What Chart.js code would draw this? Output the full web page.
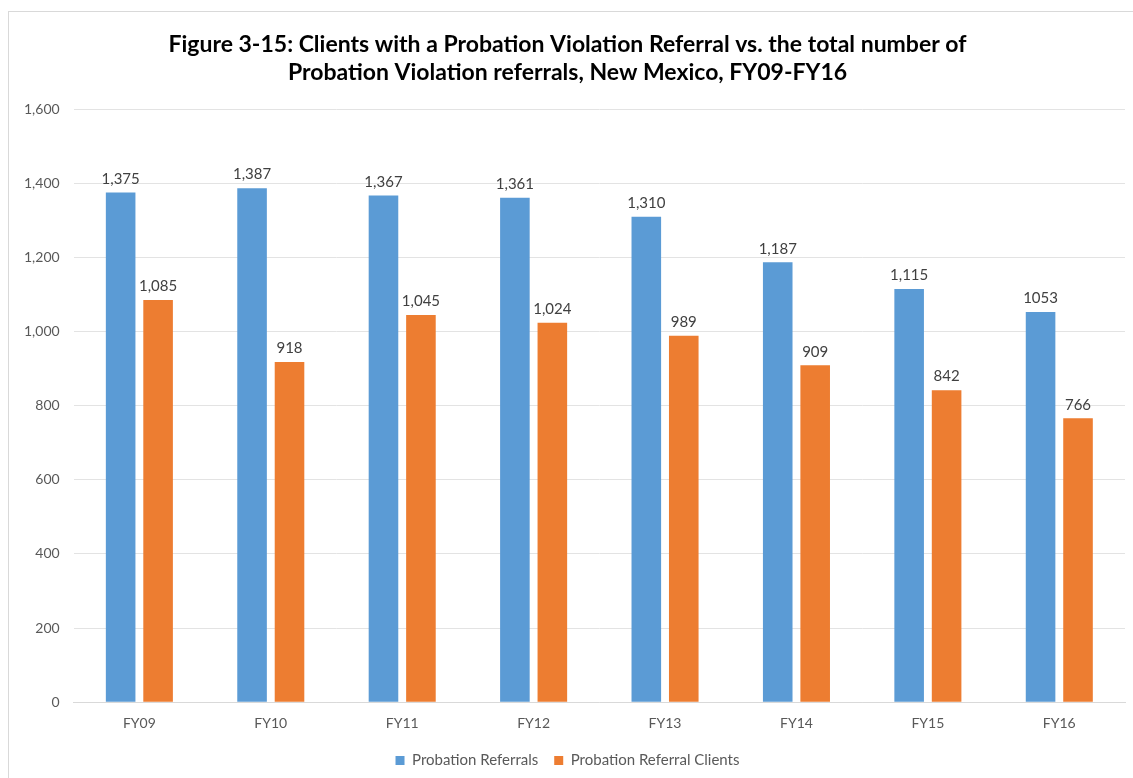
<!DOCTYPE html>
<html>
<head>
<meta charset="utf-8">
<script src="https://cdn.jsdelivr.net/npm/chart.js@4"></script>
<style>
  html, body { margin: 0; padding: 0; background: #fff; }
  #frame { position: absolute; left: 8px; top: 11px; width: 1140px; height: 800px; border: 1px solid #d9d9d9; }
  #wrap { position: absolute; left: 0; top: 0; width: 1133px; height: 778px; }
</style>
</head>
<body>
<div id="frame"></div>
<div id="wrap"><canvas id="chart"></canvas></div>
<script>
const years = ["FY09", "FY10", "FY11", "FY12", "FY13", "FY14", "FY15", "FY16"];
const referrals = [1375, 1387, 1367, 1361, 1310, 1187, 1115, 1053];
const clients = [1085, 918, 1045, 1024, 989, 909, 842, 766];
// labels as printed on the figure (FY16 has no comma)
const referralLabels = ["1,375", "1,387", "1,367", "1,361", "1,310", "1,187", "1,115", "1053"];
const clientLabels = ["1,085", "918", "1,045", "1,024", "989", "909", "842", "766"];

const FONT = "Lato, 'Open Sans', sans-serif";
const GREY = "#595959";

// draw value labels on top of each bar
const barLabels = {
  id: "barLabels",
  afterDatasetsDraw(chart) {
    const ctx = chart.ctx;
    ctx.save();
    ctx.font = "15px " + FONT;
    ctx.fillStyle = "#404040";
    ctx.textAlign = "center";
    ctx.textBaseline = "bottom";
    chart.data.datasets.forEach((ds, i) => {
      chart.getDatasetMeta(i).data.forEach((bar, j) => {
        ctx.fillText(ds.labelsText[j], bar.x, bar.y - 6);
      });
    });
    ctx.restore();
  }
};

new Chart(document.getElementById("chart"), {
  type: "bar",
  data: {
    labels: years,
    datasets: [
      { label: "Probation Referrals", data: referrals, labelsText: referralLabels,
        backgroundColor: "#5b9bd5", barPercentage: 0.79, categoryPercentage: 0.57 },
      { label: "Probation Referral Clients", data: clients, labelsText: clientLabels,
        backgroundColor: "#ed7d31", barPercentage: 0.79, categoryPercentage: 0.57 }
    ]
  },
  options: {
    responsive: true,
    maintainAspectRatio: false,
    animation: false,
    layout: { padding: { left: 10, right: 8, top: 21, bottom: 0 } },
    plugins: {
      title: {
        display: true,
        text: ["Figure 3-15: Clients with a Probation Violation Referral vs. the total number of",
               "Probation Violation referrals, New Mexico, FY09-FY16"],
        font: { family: FONT, size: 23, weight: "bold" },
        color: "#000",
        padding: { top: 10, bottom: 23 },
        lineHeight: 1.22
      },
      legend: {
        position: "bottom",
        labels: {
          font: { family: FONT, size: 15 },
          color: GREY,
          boxWidth: 9,
          boxHeight: 9,
          padding: 16
        }
      },
      tooltip: { enabled: false }
    },
    scales: {
      x: {
        grid: { display: false },
        border: { color: "#d9d9d9" },
        ticks: { font: { family: FONT, size: 14 }, color: GREY, padding: 5 }
      },
      y: {
        min: 0,
        max: 1600,
        ticks: {
          stepSize: 200,
          font: { family: FONT, size: 14 },
          color: GREY,
          padding: 14,
          callback: v => v.toLocaleString("en-US")
        },
        grid: { color: "#e3e3e3", drawTicks: false },
        border: { display: false }
      }
    }
  },
  plugins: [barLabels]
});
</script>
</body>
</html>
